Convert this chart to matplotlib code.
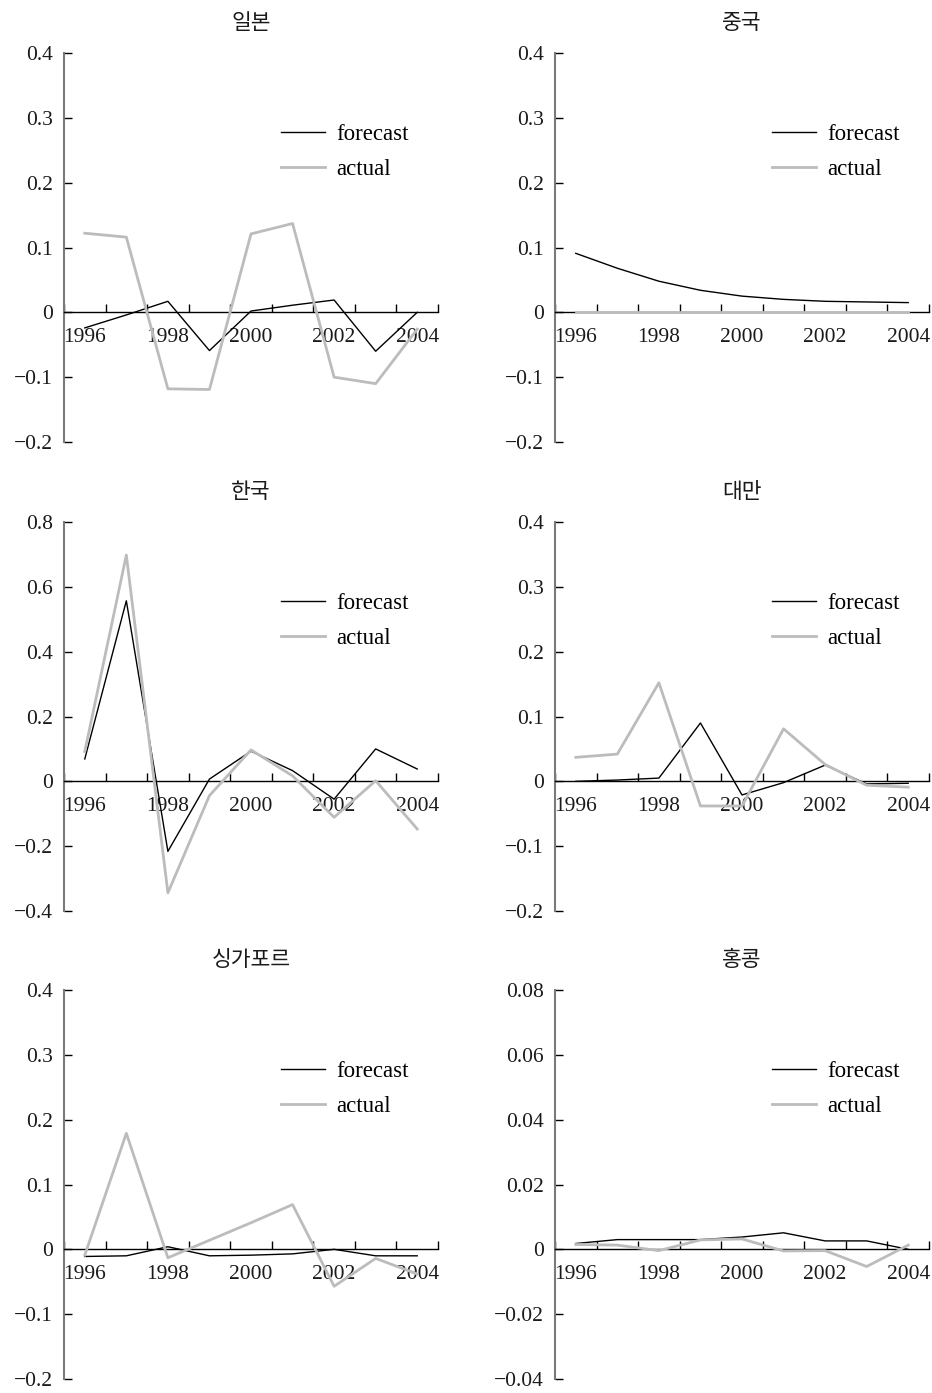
import matplotlib
matplotlib.use('Agg')
import matplotlib.pyplot as plt
import numpy as np

plt.rcParams['font.family'] = ['Liberation Serif', 'Noto Sans CJK KR', 'DejaVu Sans']

years = [1996, 1997, 1998, 1999, 2000, 2001, 2002, 2003, 2004]
year_labels = ['1996', '1998', '2000', '2002', '2004']

titles = ['일본', '중국', '한국', '대만', '싱가포르', '홍콩']

japan_forecast = [-0.024, -0.004, 0.017, -0.059, 0.002, 0.011, 0.019, -0.060, 0.000]
japan_actual = [0.122, 0.116, -0.118, -0.119, 0.121, 0.137, -0.100, -0.110, -0.026]

china_forecast = [0.091, 0.068, 0.048, 0.034, 0.025, 0.020, 0.017, 0.016, 0.015]
china_actual = [0.0, 0.0, 0.0, 0.0, 0.0, 0.0, 0.0, 0.0, 0.0]

korea_forecast = [0.069, 0.557, -0.216, 0.007, 0.093, 0.033, -0.055, 0.100, 0.038]
korea_actual = [0.092, 0.698, -0.344, -0.044, 0.097, 0.017, -0.111, 0.002, -0.147]

taiwan_forecast = [0.000, 0.002, 0.005, 0.090, -0.021, -0.002, 0.025, -0.004, -0.003]
taiwan_actual = [0.037, 0.042, 0.152, -0.038, -0.038, 0.081, 0.026, -0.006, -0.009]

singapore_forecast = [-0.011, -0.010, 0.004, -0.010, -0.009, -0.007, 0.000, -0.010, -0.010]
singapore_actual = [-0.009, 0.179, -0.013, 0.014, 0.041, 0.069, -0.057, -0.014, -0.038]

hongkong_forecast = [0.0018, 0.0030, 0.0030, 0.0030, 0.0038, 0.0051, 0.0026, 0.0026, 0.0000]
hongkong_actual = [0.0015, 0.0013, -0.0004, 0.0029, 0.0032, -0.0005, -0.0004, -0.0053, 0.0013]

yticks_std = [-0.2, -0.1, 0.0, 0.1, 0.2, 0.3, 0.4]
yticks_korea = [-0.4, -0.2, 0.0, 0.2, 0.4, 0.6, 0.8]
yticks_hk = [-0.04, -0.02, 0.0, 0.02, 0.04, 0.06, 0.08]

panels = [
    (japan_forecast, japan_actual, yticks_std),
    (china_forecast, china_actual, yticks_std),
    (korea_forecast, korea_actual, yticks_korea),
    (taiwan_forecast, taiwan_actual, yticks_std),
    (singapore_forecast, singapore_actual, yticks_std),
    (hongkong_forecast, hongkong_actual, yticks_hk),
]

W, H = 932, 1393
fig = plt.figure(figsize=(W / 100, H / 100), dpi=100)

col_x = [64, 555]
row_top = [53, 522, 990]
ax_w, ax_h = 374, 389

gray = '#bcbcbc'
text_col = '#1a1a1a'

def fmt(v):
    if abs(v) < 1e-12:
        return '0'
    s = f'{v:g}'
    return s.replace('-', '\u2212')

x = np.arange(len(years))
for i, (fc, ac, yt) in enumerate(panels):
    r, c = divmod(i, 2)
    left = col_x[c] / W
    bottom = 1 - (row_top[r] + ax_h) / H
    ax = fig.add_axes([left, bottom, ax_w / W, ax_h / H])

    ax.plot(x, fc, color='black', lw=1.0, zorder=3, label='forecast')
    ax.plot(x, ac, color=gray, lw=2.0, zorder=3.5, label='actual')

    ax.set_xlim(-0.5, len(years) - 0.5)
    ax.set_ylim(yt[0], yt[-1])

    for s in ['top', 'right']:
        ax.spines[s].set_visible(False)
    ax.spines['bottom'].set_position(('data', 0))
    ax.spines['bottom'].set_color('black')
    ax.spines['bottom'].set_linewidth(1.0)
    ax.spines['left'].set_color('#7a7a7a')
    ax.spines['left'].set_linewidth(1.5)

    ax.set_yticks(yt)
    ax.set_yticklabels([fmt(v) for v in yt])
    ax.tick_params(axis='y', direction='in', length=5.8, width=1.0,
                   color='black', pad=8, labelsize=15.5, labelcolor=text_col)

    ax.set_xticks(np.arange(-0.5, len(years), 1.0))
    ax.set_xticklabels([])
    ax.tick_params(axis='x', which='major', direction='in', length=5.8,
                   width=1.0, color='black')
    label_pos = [years.index(int(y)) for y in year_labels]
    ax.set_xticks(label_pos, minor=True)
    ax.set_xticklabels(year_labels, minor=True)
    ax.tick_params(axis='x', which='minor', length=0, pad=11,
                   labelsize=15.5, labelcolor=text_col)

    ax.set_title(titles[i], fontsize=15.5, pad=17, color=text_col,
                 family=['Noto Sans CJK KR'])

    ax.legend(loc='upper left', bbox_to_anchor=(0.58, 0.818), frameon=False,
              borderpad=0, borderaxespad=0, handlelength=1.92,
              handletextpad=0.48, labelspacing=0.6, fontsize=16.5)

fig.savefig('out.png', dpi=100)
